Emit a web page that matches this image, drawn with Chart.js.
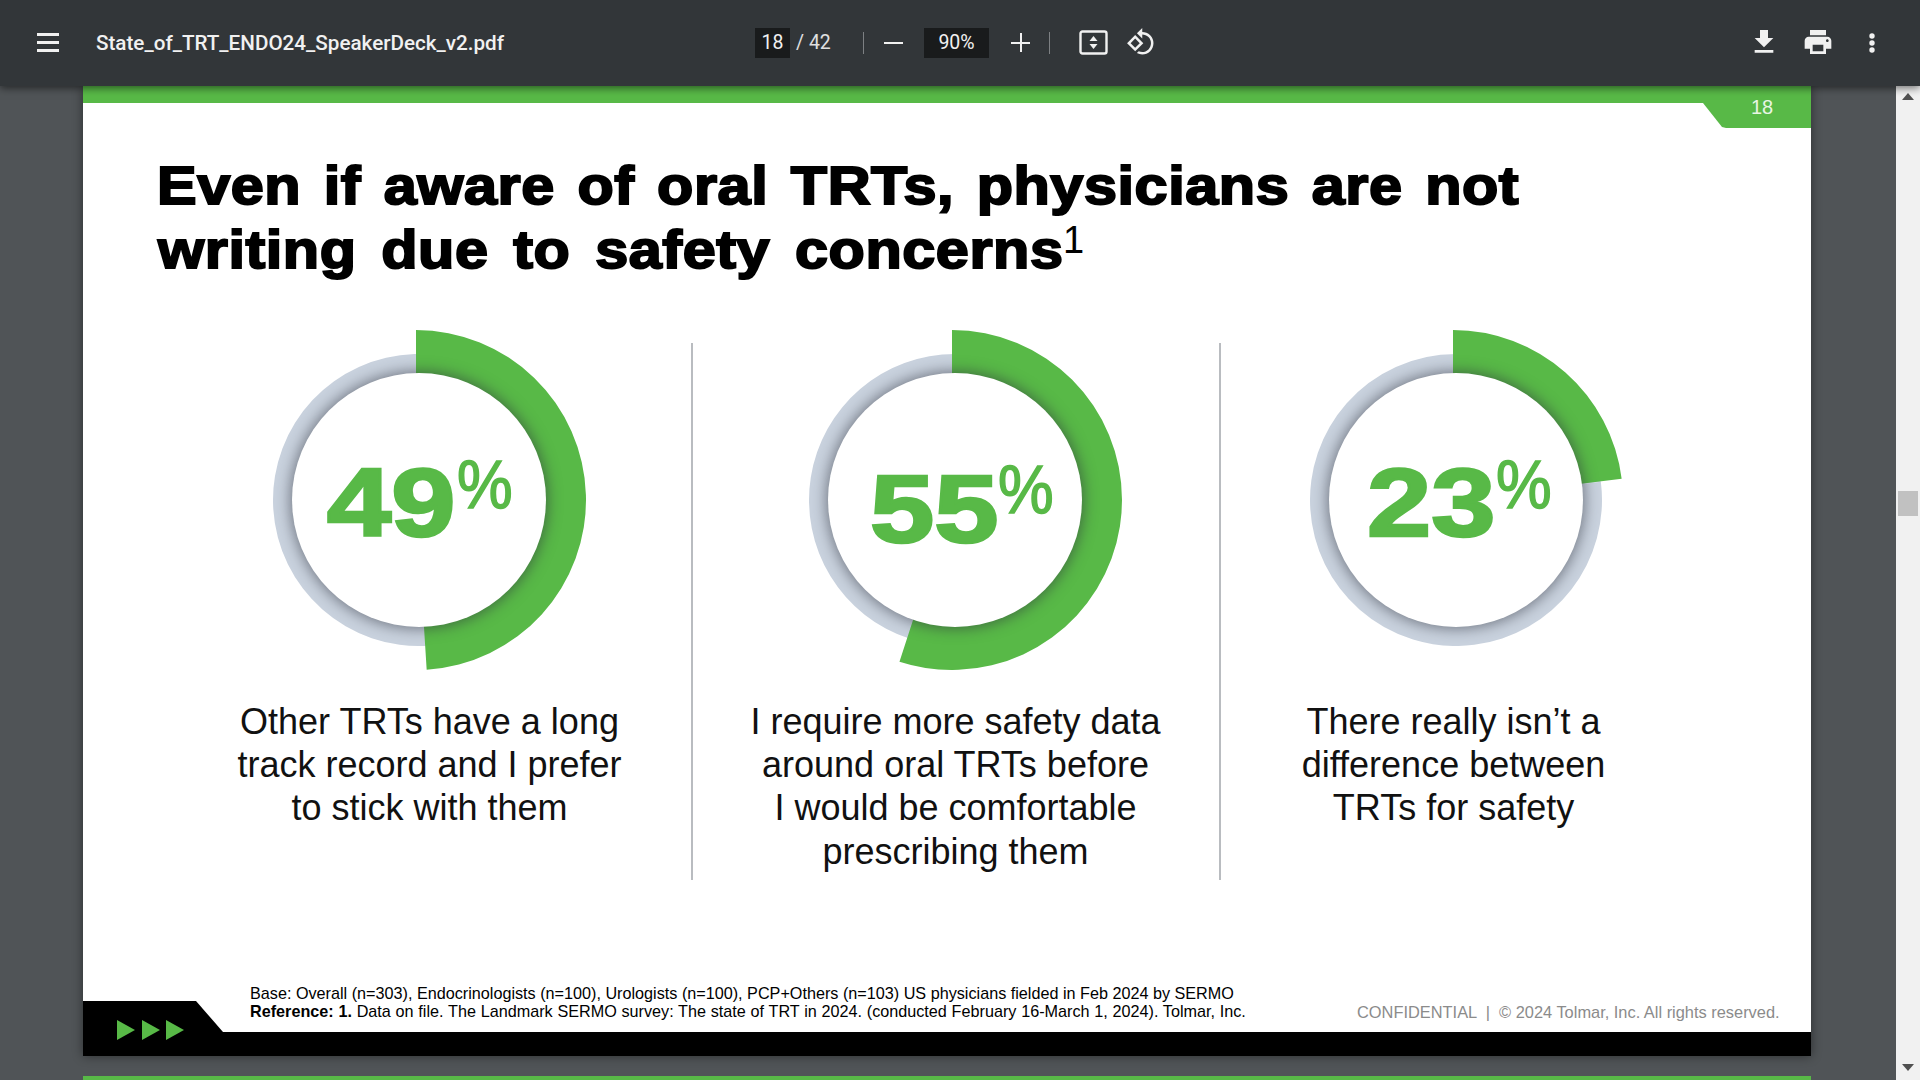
<!DOCTYPE html>
<html>
<head>
<meta charset="utf-8">
<title>State_of_TRT_ENDO24_SpeakerDeck_v2.pdf</title>
<script src="https://cdn.jsdelivr.net/npm/chart.js@4"></script>
<style>
    html, body { margin: 0; padding: 0; width: 1920px; height: 1080px; overflow: hidden; background: #505457; font-family: "Liberation Sans", Arial, sans-serif; }
    .abs { position: absolute; white-space: nowrap; }

    /* viewer toolbar */
    #toolbar { left: 0; top: 0; width: 1920px; height: 86px; background: #323639; box-shadow: 0 2px 8px rgba(0,0,0,.55); z-index: 5; font-family: Roboto, sans-serif; color: #f1f1f1; }
    #toolbar svg { position: absolute; fill: #f1f1f1; }
    .tbox { background: #191b1c; height: 30px; top: 28px; line-height: 30px; text-align: center; font-size: 19.5px; color: #f1f1f1; }
    .tsep { width: 1px; height: 22px; top: 32px; background: #7d8083; }
    .bar { left: 37px; width: 22px; height: 3px; background: #f1f1f1; }

    /* scrollbar */
    #scroll { left: 1896px; top: 86px; width: 24px; height: 994px; background: #f1f1f1; }
    #thumb { left: 1898px; top: 491px; width: 20px; height: 25px; background: #c1c1c1; }

    /* slide */
    #slide { left: 83px; top: 86px; width: 1728px; height: 970px; background: #fff; box-shadow: 0 0 10px rgba(0,0,0,.45); }
    #nextPage { left: 83px; top: 1076px; width: 1728px; height: 4px; background: #58b947; }
    #topBar { left: 83px; top: 86px; width: 1728px; height: 17px; background: #58b947; }
    #tab { left: 1703px; top: 103px; width: 108px; height: 25px; background: #58b947; clip-path: polygon(0 0, 100% 0, 100% 100%, 23px 100%, 19px 96%); }
    #pageNo { left: 1750px; top: 95px; width: 24px; font-size: 20px; line-height: 24px; color: #e8f5e4; text-align: center; }

    .title { left: 157px; font-size: 54px; line-height: 63px; font-weight: bold; color: #000; -webkit-text-stroke: 2px #000; transform-origin: 0 50%; transform: scaleX(1.1); letter-spacing: 0.5px; word-spacing: 5px; }
    .sup { left: 1063px; top: 220px; font-size: 38px; line-height: 40px; color: #000; }

    .sep { top: 343px; width: 2px; height: 537px; background: #b9bcc0; }

    canvas.ring { position: absolute; }
    .hole { position: absolute; width: 254px; height: 254px; border-radius: 50%; background: #fff; box-shadow: 0 0 14px 2px rgba(45,50,60,.55); }
    .digits { font-size: 97px; line-height: 97px; font-weight: bold; color: #58b947; -webkit-text-stroke: 2.6px #58b947; transform-origin: 0 50%; transform: scaleX(1.19); }
    .pct { font-size: 68px; line-height: 68px; color: #58b947; -webkit-text-stroke: 1.5px #58b947; transform-origin: 0 50%; transform: scaleX(.92); }

    .caption { width: 600px; text-align: center; font-size: 36px; line-height: 43.4px; color: #111; white-space: normal; }

    #blackBar { left: 83px; top: 1032px; width: 1728px; height: 24px; background: #000; }
    #blackTab { left: 83px; top: 1001px; width: 141px; height: 31px; background: #000; clip-path: polygon(0 0, 113px 0, 140px 100%, 0 100%); }
    .foot { left: 250px; font-size: 16.2px; line-height: 19px; color: #000; }
    #conf { left: 1357px; top: 1003px; font-size: 16.4px; line-height: 19px; color: #8b8b8b; }
</style>
</head>
<body>

<div class="abs" id="slide"></div>
<div class="abs" id="nextPage"></div>
<div class="abs" id="topBar"></div>
<div class="abs" id="tab"></div>
<div class="abs" id="pageNo">18</div>

<div class="abs title" style="top:154px">Even if aware of oral TRTs, physicians are not</div>
<div class="abs title" style="top:218px;left:158px;word-spacing:7px">writing due to safety concerns</div>
<div class="abs sup">1</div>

<div class="abs sep" style="left:691px"></div>
<div class="abs sep" style="left:1219px"></div>

<div id="donuts"></div>

<div class="abs" id="blackBar"></div>
<div class="abs" id="blackTab"></div>
<svg class="abs" style="left:117px;top:1020px" width="68" height="20" fill="#58b947">
    <polygon points="0,0 18,10 0,20"></polygon>
    <polygon points="25,0 43,10 25,20"></polygon>
    <polygon points="49,0 67,10 49,20"></polygon>
</svg>
<div class="abs foot" style="top:984px">Base: Overall (n=303), Endocrinologists (n=100), Urologists (n=100), PCP+Others (n=103) US physicians fielded in Feb 2024 by SERMO</div>
<div class="abs foot" style="top:1002px;word-spacing:.25px"><b>Reference: 1.</b> Data on file. The Landmark SERMO survey: The state of TRT in 2024. (conducted February 16-March 1, 2024). Tolmar, Inc.</div>
<div class="abs" id="conf">CONFIDENTIAL &nbsp;|&nbsp; © 2024 Tolmar, Inc. All rights reserved.</div>

<div class="abs" id="scroll"></div>
<div class="abs" id="thumb"></div>
<svg class="abs" style="left:1901px;top:92px" width="14" height="10" fill="#505050"><polygon points="7,1 13,8 1,8"></polygon></svg>
<svg class="abs" style="left:1901px;top:1063px" width="14" height="10" fill="#505050"><polygon points="1,1 13,1 7,8"></polygon></svg>

<div class="abs" id="toolbar">
    <div class="abs bar" style="top:33px"></div>
    <div class="abs bar" style="top:41px"></div>
    <div class="abs bar" style="top:49px"></div>
    <div class="abs" style="left:96px;top:28px;line-height:30px;font-size:20.65px;font-weight:500">State_of_TRT_ENDO24_SpeakerDeck_v2.pdf</div>
    <div class="abs tbox" style="left:755px;width:35px">18</div>
    <div class="abs" style="left:796px;top:28px;line-height:30px;font-size:19.5px;color:#e0e0e0">/ 42</div>
    <div class="abs tsep" style="left:863px"></div>
    <div class="abs" style="left:884px;top:42px;width:19px;height:2px;background:#f1f1f1"></div>
    <div class="abs tbox" style="left:924px;width:65px">90%</div>
    <div class="abs" style="left:1011px;top:42px;width:19px;height:2px;background:#f1f1f1"></div>
    <div class="abs" style="left:1020px;top:33px;width:2px;height:19px;background:#f1f1f1"></div>
    <div class="abs tsep" style="left:1049px"></div>
    <svg style="left:1079px;top:30px" width="29" height="25" viewBox="0 0 29 25">
        <rect x="1.5" y="1.5" width="26" height="22" rx="2" fill="none" stroke="#f1f1f1" stroke-width="2.4"></rect>
        <polygon points="14.5,6 18.5,11 10.5,11"></polygon>
        <polygon points="14.5,19 18.5,14 10.5,14"></polygon>
    </svg>
    <svg style="left:1126px;top:27px" width="30" height="30" viewBox="0 0 24 24"><path d="M7.34 6.41L.86 12.9l6.49 6.48 6.49-6.48-6.5-6.49zM3.69 12.9l3.66-3.66L11 12.9l-3.66 3.66-3.65-3.66zm15.67-6.26C17.61 4.88 15.3 4 13 4V.76L8.76 5 13 9.24V6c1.79 0 3.58.68 4.95 2.05 2.73 2.73 2.73 7.17 0 9.9C16.58 19.32 14.79 20 13 20c-.97 0-1.94-.21-2.84-.61l-1.49 1.49C10.02 21.62 11.51 22 13 22c2.3 0 4.61-.88 6.36-2.64 3.52-3.51 3.52-9.21 0-12.72z"></path></svg>
    <svg style="left:1748px;top:26px" width="32" height="32" viewBox="0 0 24 24"><path d="M19 9h-4V3H9v6H5l7 7 7-7zM5 18v2h14v-2H5z"></path></svg>
    <svg style="left:1802px;top:26px" width="32" height="32" viewBox="0 0 24 24"><path d="M19 8H5c-1.66 0-3 1.34-3 3v6h4v4h12v-4h4v-6c0-1.66-1.34-3-3-3zm-3 11H8v-5h8v5zm3-7c-.55 0-1-.45-1-1s.45-1 1-1 1 .45 1 1-.45 1-1 1zm-1-9H6v4h12V3z"></path></svg>
    <svg style="left:1863px;top:27px" width="18" height="32" viewBox="0 0 18 32"><circle cx="9" cy="9" r="2.7"></circle><circle cx="9" cy="16" r="2.7"></circle><circle cx="9" cy="23" r="2.7"></circle></svg>
</div>

<script>
// Data
const categories = [
    ['Other TRTs have a long', 'track record and I prefer', 'to stick with them'],
    ['I require more safety data', 'around oral TRTs before', 'I would be comfortable', 'prescribing them'],
    ['There really isn’t a', 'difference between', 'TRTs for safety']
];
const shareValues = [49, 55, 23];
const restValues = [51, 45, 77];
const valueLabels = ['49', '55', '23'];

const green = '#58b947';
const grey = '#c9d2de';

// Where each donut sits on the slide
const layouts = [
    { ringX: 418.5, arcX: 416, digitsX: 327, digitsY: 454, pctX: 457, pctY: 450, captionX: 429.5 },
    { ringX: 954.5, arcX: 952, digitsX: 870, digitsY: 460, pctX: 998, pctY: 455, captionX: 955.5 },
    { ringX: 1456, arcX: 1453, digitsX: 1367, digitsY: 454, pctX: 1496, pctY: 450, captionX: 1453.5 }
];
const centerY = 499.5;

function addDonutChart(parent, radius, cutout, centerX, data, colors) {
    const canvas = document.createElement('canvas');
    canvas.className = 'ring';
    canvas.width = radius * 2;
    canvas.height = radius * 2;
    canvas.style.left = (centerX - radius) + 'px';
    canvas.style.top = (centerY - radius) + 'px';
    parent.appendChild(canvas);

    new Chart(canvas.getContext('2d'), {
        type: 'doughnut',
        data: {
            labels: ['Agree', 'Other'],
            datasets: [{ data: data, backgroundColor: colors, borderWidth: 0, hoverOffset: 0 }]
        },
        options: {
            responsive: false,
            animation: false,
            cutout: cutout,
            plugins: { legend: { display: false }, tooltip: { enabled: false } }
        }
    });
}

const donuts = document.getElementById('donuts');

shareValues.forEach((value, i) => {
    const pos = layouts[i];

    // grey track, then the green arc over it
    addDonutChart(donuts, 146, '86%', pos.ringX, [value, restValues[i]], [grey, grey]);
    addDonutChart(donuts, 170, '70%', pos.arcX, [value, restValues[i]], [green, 'rgba(0,0,0,0)']);

    // white centre with its soft shadow
    const hole = document.createElement('div');
    hole.className = 'hole';
    hole.style.left = (pos.ringX - 127) + 'px';
    hole.style.top = (centerY - 127) + 'px';
    donuts.appendChild(hole);

    const digits = document.createElement('div');
    digits.className = 'abs digits';
    digits.style.left = pos.digitsX + 'px';
    digits.style.top = pos.digitsY + 'px';
    digits.textContent = valueLabels[i];
    donuts.appendChild(digits);

    const pct = document.createElement('div');
    pct.className = 'abs pct';
    pct.style.left = pos.pctX + 'px';
    pct.style.top = pos.pctY + 'px';
    pct.textContent = '%';
    donuts.appendChild(pct);

    const caption = document.createElement('div');
    caption.className = 'abs caption';
    caption.style.left = (pos.captionX - 300) + 'px';
    caption.style.top = '699.5px';
    caption.innerHTML = categories[i].join('<br>');
    donuts.appendChild(caption);
});
</script>
</body>
</html>
